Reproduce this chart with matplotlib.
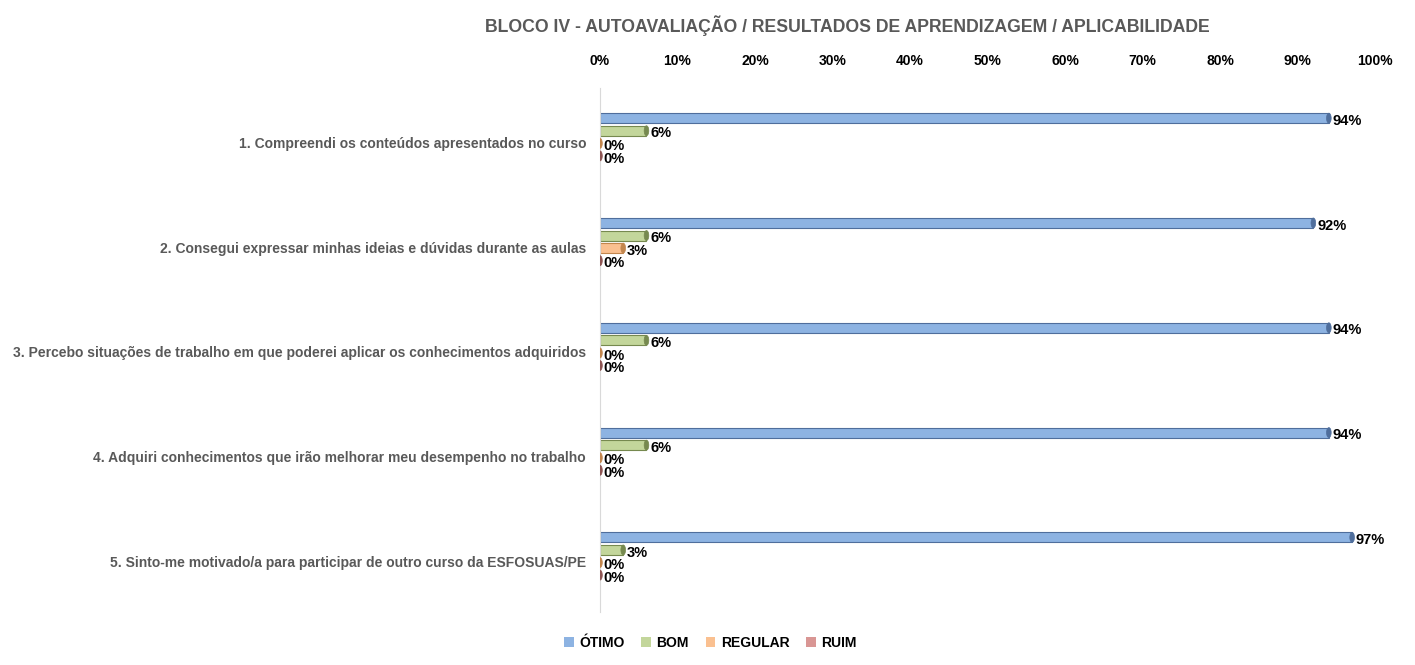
import numpy as np
import matplotlib
matplotlib.use("Agg")
import matplotlib.pyplot as plt
from matplotlib.patches import Ellipse

plt.rcParams['font.family'] = ['Liberation Sans', 'DejaVu Sans']

# data
perguntas = [
    "1. Compreendi os conteúdos apresentados no curso",
    "2. Consegui expressar minhas ideias e dúvidas durante as aulas",
    "3. Percebo situações de trabalho em que poderei aplicar os conhecimentos adquiridos",
    "4. Adquiri conhecimentos que irão melhorar meu desempenho no trabalho",
    "5. Sinto-me motivado/a para participar de outro curso da ESFOSUAS/PE",
]
series = ["ÓTIMO", "BOM", "REGULAR", "RUIM"]
otimo = [94, 92, 94, 94, 97]
bom = [6, 6, 6, 6, 3]
regular = [0, 3, 0, 0, 0]
ruim = [0, 0, 0, 0, 0]

cores = ["#8DB3E2", "#C3D69B", "#FAC090", "#D99694"]
bordas = ["#4F6E9C", "#76894F", "#C2864E", "#8E5553"]

fig = plt.figure(figsize=(14.15, 6.65), dpi=100)
ax = fig.add_axes([0.424, 0.080, 0.548, 0.788])

valores = [otimo, bom, regular, ruim]
n = len(perguntas)
ys = np.arange(n)
offs = [-0.21, -0.09, 0.03, 0.15]
h = 0.095

for k, (vals, c, b) in enumerate(zip(valores, cores, bordas)):
    pos = ys + offs[k]
    ax.barh(pos, vals, height=h, color=c, edgecolor=b, linewidth=0.8,
            label=series[k], zorder=2)
    for y, v in zip(pos, vals):
        ax.add_patch(Ellipse((v, y), 0.6, h, facecolor=b, edgecolor=b,
                             linewidth=0.5, zorder=3))
        ax.text(v + 0.5, y + 0.025, f"{v}%", ha="left", va="center",
                fontsize=10.5, fontweight="bold", color="black", zorder=4)

ax.set_xlim(0, 100)
ax.set_ylim(n - 0.5, -0.5)
ax.set_yticks(ys + 0.02)
ax.set_yticklabels(perguntas, fontsize=10, fontweight="bold", color="#595959")
ax.tick_params(axis="y", length=0, pad=10)
ax.xaxis.tick_top()
ax.set_xticks(np.arange(0, 101, 10))
ax.set_xticklabels([f"{t}%" for t in range(0, 101, 10)], fontsize=10,
                   fontweight="bold", color="black")
ax.tick_params(axis="x", length=0, pad=14)
for s in ["top", "right", "bottom"]:
    ax.spines[s].set_visible(False)
ax.spines["left"].set_color("#D9D9D9")

fig.text(0.599, 0.962, "BLOCO IV - AUTOAVALIAÇÃO / RESULTADOS DE APRENDIZAGEM / APLICABILIDADE",
         ha="center", va="center", fontsize=12.7, fontweight="bold", color="#595959")

leg = fig.legend(loc="center", bbox_to_anchor=(0.502, 0.033), ncol=4, frameon=False,
                 handlelength=0.7, handleheight=0.7, handletextpad=0.4,
                 columnspacing=1.2, prop={"size": 10, "weight": "bold"})
for hnd in leg.legend_handles:
    hnd.set_edgecolor("none")

fig.savefig("out.png", dpi=100, facecolor="white")
